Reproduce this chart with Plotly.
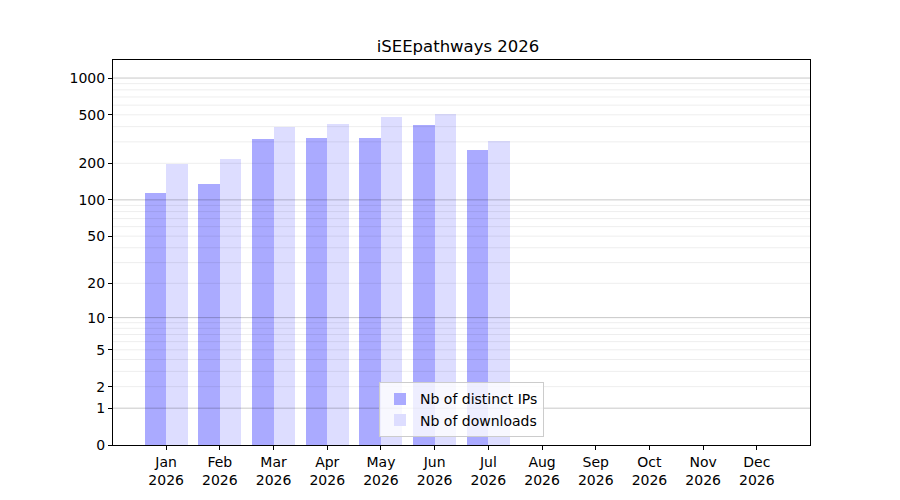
import numpy as np
import plotly.graph_objects as go

# Monthly stats (raw counts)
months = ['Jan', 'Feb', 'Mar', 'Apr', 'May', 'Jun', 'Jul', 'Aug', 'Sep', 'Oct', 'Nov', 'Dec']
year = '2026'
distinct_ips = [114, 135, 317, 323, 323, 413, 257]
downloads = [198, 217, 397, 421, 480, 508, 305]
tick_values = [0, 1, 2, 5, 10, 20, 50, 100, 200, 500, 1000]
major_grid = [1, 10, 100, 1000]
minor_grid = [m * 10 ** e for e in range(0, 3) for m in range(2, 10)]


def tr(v):
    # symlog-like transform: log10(1 + x)
    return np.log10(1 + np.asarray(v, dtype=float))


x_ips = np.arange(len(distinct_ips))
x_dl = np.arange(len(downloads))

fig = go.Figure()
fig.add_trace(go.Bar(x=x_ips - 0.2, y=tr(distinct_ips), width=0.4, name='Nb of distinct IPs',
                     marker=dict(color='#aaaaff', line=dict(width=0)),
                     customdata=distinct_ips, hovertemplate='%{customdata}'))
fig.add_trace(go.Bar(x=x_dl + 0.2, y=tr(downloads), width=0.4, name='Nb of downloads',
                     marker=dict(color='#ddddff', line=dict(width=0)),
                     customdata=downloads, hovertemplate='%{customdata}'))

# gridlines drawn over the bars, like the original
shapes = []
for v in minor_grid:
    shapes.append(dict(type='line', xref='paper', yref='y', x0=0, x1=1, y0=float(tr(v)), y1=float(tr(v)),
                       line=dict(color='rgba(0,0,0,0.07)', width=1), layer='above'))
for v in major_grid:
    shapes.append(dict(type='line', xref='paper', yref='y', x0=0, x1=1, y0=float(tr(v)), y1=float(tr(v)),
                       line=dict(color='rgba(0,0,0,0.22)', width=1), layer='above'))

fig.update_layout(
    width=900, height=500,
    paper_bgcolor='white', plot_bgcolor='white',
    margin=dict(l=105, r=98, t=52, b=63),
    font=dict(family='DejaVu Sans', size=14, color='black'),
    title=dict(text='iSEEpathways ' + year, x=0.5, xanchor='center', y=0.936, yanchor='top',
               font=dict(size=16.5)),
    barmode='overlay',
    bargap=0,
    showlegend=True,
    legend=dict(x=0.5, xanchor='center', y=0.02, yanchor='bottom',
                bgcolor='rgba(255,255,255,0.8)', bordercolor='#cccccc', borderwidth=1,
                font=dict(size=14), traceorder='normal', itemwidth=30,
                tracegroupgap=0),
    shapes=shapes,
    xaxis=dict(
        range=[-0.99, 11.99],
        tickmode='array',
        tickvals=list(range(len(months))),
        ticktext=[m + '<br>' + year for m in months],
        showgrid=False, zeroline=False,
        showline=True, linecolor='black', linewidth=1, mirror=True,
        ticks='outside', ticklen=4, tickcolor='black',
    ),
    yaxis=dict(
        range=[0, 3.148],
        tickmode='array',
        tickvals=list(tr(tick_values)),
        ticktext=[str(t) for t in tick_values],
        showgrid=False, zeroline=False,
        showline=True, linecolor='black', linewidth=1, mirror=True,
        ticks='outside', ticklen=4, tickcolor='black',
    ),
)

fig.write_html("out.html")
